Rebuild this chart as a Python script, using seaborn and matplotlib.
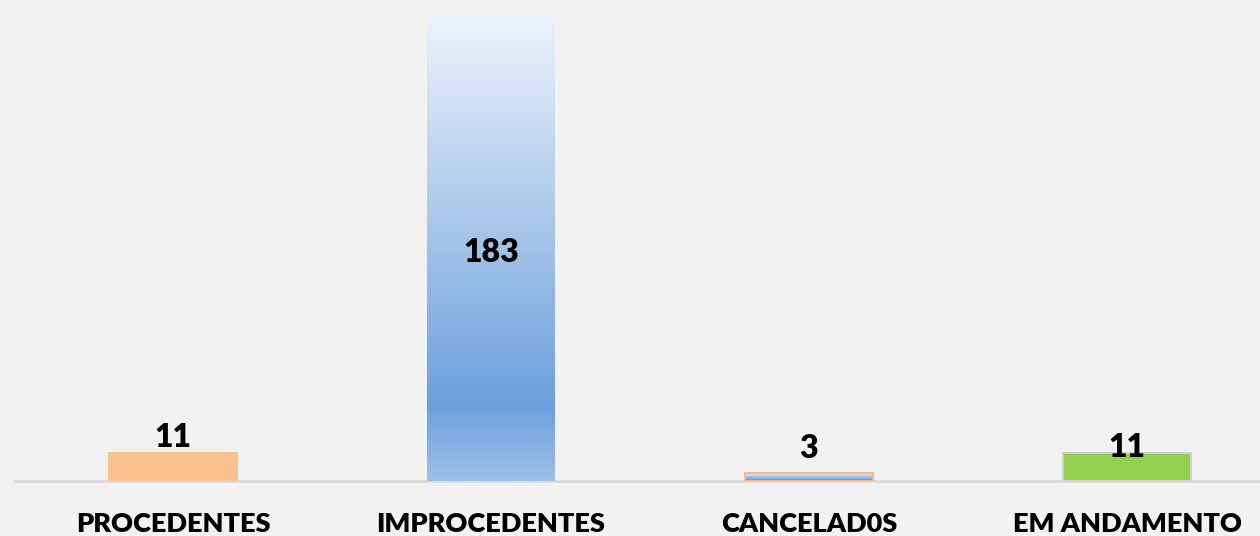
import matplotlib
matplotlib.use("Agg")
from matplotlib import pyplot as plt
from matplotlib.colors import LinearSegmentedColormap
import seaborn as sns
import numpy as np
import pandas

sns.set_style("white")
plt.rcParams['font.family'] = ['Lato', 'DejaVu Sans']

# data
categories = ['PROCEDENTES', 'IMPROCEDENTES', 'CANCELAD0S', 'EM ANDAMENTO']
values = [11, 183, 3, 11]
bar_colors = ['#FAC191', '#6CA0DC', '#6CA0DC', '#92D050']
edge_colors = ['#FAC191', 'none', '#F6B98A', '#D0D0D0']
# vertical offset of the value label from the bar top, in pixels (None = centered in bar)
label_offsets = [15, None, 25, 5]

bg = '#F2F2F2'
df = pandas.DataFrame({'cat': categories, 'val': values})

fig = plt.figure(figsize=(12.6, 5.36), dpi=100, facecolor=bg)
ax = fig.add_axes([14 / 1260, 55 / 536, 1246 / 1260, 481 / 536])
ax.set_facecolor(bg)

sns.barplot(data=df, x='cat', y='val', hue='cat', palette=bar_colors,
            legend=False, width=0.4, saturation=1, ax=ax)

# excel style gradient: light top, dark blue near the bottom, lighter at the base
grad = LinearSegmentedColormap.from_list(
    'blue_grad', [(0, '#EEF3FB'), (0.84, '#6CA0DC'), (1, '#9DC0EA')])
gradient = np.linspace(0, 1, 256).reshape(-1, 1)

for i, patch in enumerate(ax.patches):
    patch.set_edgecolor(edge_colors[i])
    patch.set_linewidth(1.5)
    patch.set_zorder(3)
    if i in (1, 2):
        x0, y0 = patch.get_x(), patch.get_y()
        w, h = patch.get_width(), patch.get_height()
        im = ax.imshow(gradient, cmap=grad, aspect='auto',
                       extent=(x0, x0 + w, y0, y0 + h), origin='upper', zorder=2)
        im.set_clip_path(patch)
        patch.set_facecolor('none')

ax.set_xlim(-0.5, (1260 - 173) / 318)
ax.set_ylim(0, 481 / (468 / 183))

for i, patch in enumerate(ax.patches):
    xc = patch.get_x() + patch.get_width() / 2
    top = patch.get_height()
    if label_offsets[i] is None:
        ax.text(xc, top / 2 - 2, str(values[i]), ha='center', va='center',
                fontsize=23, fontweight='heavy', color='black', zorder=5)
    else:
        ax.annotate(str(values[i]), (xc, top), xytext=(0, label_offsets[i]),
                    textcoords='offset pixels', ha='center', va='center',
                    fontsize=23, fontweight='heavy', color='black', zorder=5)

ax.axhline(0, color='#D9D9D9', lw=2, zorder=1, clip_on=False)

sns.despine(ax=ax, left=True, bottom=True, right=True, top=True)
ax.set_yticks([])
ax.set_xlabel('')
ax.set_ylabel('')
ax.tick_params(axis='x', length=0, pad=22)
for lab in ax.get_xticklabels():
    lab.set_fontweight('heavy')
    lab.set_fontsize(19.5)
    lab.set_color('black')

fig.savefig('out.png', dpi=100, facecolor=bg)
